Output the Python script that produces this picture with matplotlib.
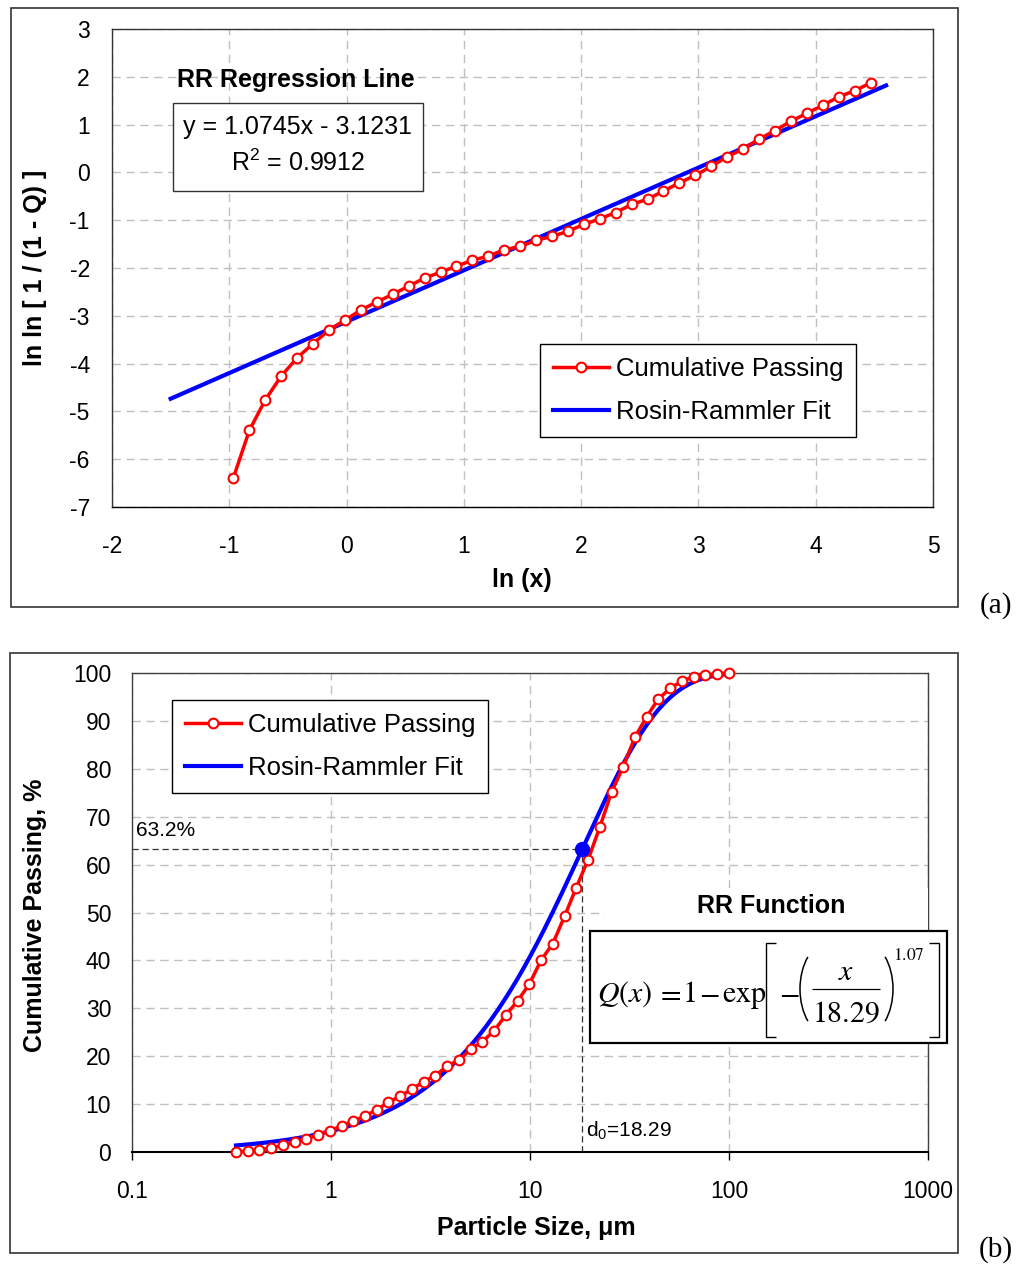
import numpy as np
import matplotlib
matplotlib.use("Agg")
import matplotlib.pyplot as plt
from matplotlib.patches import Rectangle, Arc
from matplotlib.lines import Line2D
from matplotlib.transforms import Affine2D
from matplotlib.ticker import FixedLocator, FixedFormatter

plt.rcParams['font.family'] = ['Liberation Sans', 'DejaVu Sans']
plt.rcParams['axes.unicode_minus'] = False
plt.rcParams['mathtext.fontset'] = 'custom'
plt.rcParams['mathtext.rm'] = 'Liberation Sans'
plt.rcParams['mathtext.it'] = 'Liberation Sans:italic'

# ---------------- data ----------------
particle_size_um = [0.333, 0.381, 0.437, 0.500, 0.573, 0.656, 0.752, 0.861, 0.986,
                    1.130, 1.294, 1.483, 1.699, 1.945, 2.228, 2.552, 2.924, 3.350,
                    3.835, 4.393, 5.033, 5.766, 6.606, 7.561, 8.663, 9.924, 11.37,
                    13.03, 14.91, 17.08, 19.57, 22.42, 25.69, 29.40, 33.68, 38.59,
                    44.21, 50.65, 57.97, 66.42, 76.09, 87.18, 100.0]
cumulative_passing = [0.0, 0.168, 0.455, 0.853, 1.402, 2.044, 2.750, 3.621, 4.448,
                      5.458, 6.437, 7.511, 8.840, 10.39, 11.64, 13.14, 14.69, 15.95,
                      17.96, 19.12, 21.47, 23.03, 25.34, 28.56, 31.55, 35.06, 40.05,
                      43.52, 49.19, 55.18, 61.01, 67.80, 75.12, 80.45, 86.60, 90.90,
                      94.60, 96.80, 98.30, 99.22, 99.60, 99.85, 100.0]

rr_slope = 1.0745
rr_intercept = -3.1231
rr_d0 = 18.29
rr_n = 1.07
fit_x_range_ln = [-1.5, 4.6]
fit_size_range = [0.333, 100.0]

top_xticks = [-2, -1, 0, 1, 2, 3, 4, 5]
top_yticks = [-7, -6, -5, -4, -3, -2, -1, 0, 1, 2, 3]
bot_xticks = [0.1, 1, 10, 100, 1000]
bot_xticklabels = ['0.1', '1', '10', '100', '1000']
bot_yticks = [0, 10, 20, 30, 40, 50, 60, 70, 80, 90, 100]

# transformed data for panel (a): drop Q=0 and Q=100
size_arr = np.array(particle_size_um)
q_arr = np.array(cumulative_passing)
mask = (q_arr > 0) & (q_arr < 100)
ln_x = np.log(size_arr[mask])
lnln = np.log(np.log(1.0 / (1.0 - q_arr[mask] / 100.0)))

fit_ln = np.linspace(fit_x_range_ln[0], fit_x_range_ln[1], 50)
fit_lnln = rr_slope * fit_ln + rr_intercept
fit_size = np.logspace(np.log10(fit_size_range[0]), np.log10(fit_size_range[1]), 300)
fit_q = 100 * (1 - np.exp(-(fit_size / rr_d0) ** rr_n))

# ---------------- figure ----------------
W, H = 1018, 1270
fig = plt.figure(figsize=(W / 100, H / 100), dpi=100)
# pixel transform (origin top-left, y downward)
PX = Affine2D().scale(1.0 / W, -1.0 / H).translate(0, 1) + fig.transFigure

def fx(px):
    return px / W

def fy(py):
    return 1 - py / H

RED = '#ff0000'
BLUE = '#0000ff'
GRID = '#c0c0c0'
TICK_FS = 16.5
LAB_FS = 18
LEG_FS = 18.5

# panel borders
for (x0, y0, x1, y1) in [(11, 8, 958, 607), (10, 653, 958, 1253)]:
    fig.patches.append(Rectangle((x0, y0), x1 - x0, y1 - y0, transform=PX,
                                 fill=False, edgecolor='#333333', linewidth=1.2,
                                 zorder=0))

fig.text(996, 606, '(a)', family='Liberation Serif', fontsize=21,
         ha='center', va='center', transform=PX)
fig.text(996, 1250, '(b)', family='Liberation Serif', fontsize=21,
         ha='center', va='center', transform=PX)

leg_kw = dict(fontsize=LEG_FS, frameon=True, fancybox=False, edgecolor='black',
              framealpha=1, numpoints=1, handlelength=2.2, handletextpad=0.25,
              borderpad=0.5, labelspacing=0.76, borderaxespad=0)

# ---------------- panel (a) ----------------
ax1 = fig.add_axes([fx(112), fy(507), fx(933) - fx(112), fy(29) - fy(507)])
ax1.set_xlim(-2, 5)
ax1.set_ylim(-7, 3)
ax1.set_xticks(top_xticks)
ax1.set_yticks(top_yticks)
ax1.tick_params(length=0, labelsize=TICK_FS)
ax1.tick_params(axis='x', pad=20)
ax1.tick_params(axis='y', pad=16)
ax1.grid(True, color=GRID, linestyle=(0, (6, 4)), linewidth=1)
for s in ax1.spines.values():
    s.set_color('#333333')
    s.set_linewidth(1.0)
ax1.spines['bottom'].set_color('black')

ax1.plot(ln_x, lnln, color=RED, lw=2.5, marker='o', ms=7, mfc='white', mec=RED,
         mew=1.5, label='Cumulative Passing', zorder=3)
ax1.plot(fit_ln, fit_lnln, color=BLUE, lw=3.0, label='Rosin-Rammler Fit', zorder=2.5)

leg1 = ax1.legend(loc='upper left', bbox_to_anchor=(fx(540), fy(344)),
                  bbox_transform=fig.transFigure, **leg_kw)
leg1.get_frame().set_linewidth(1.0)

fig.text(296, 80, 'RR Regression Line', fontsize=LAB_FS, fontweight='bold',
         ha='center', va='center', transform=PX)
fig.patches.append(Rectangle((173, 103), 250, 88, transform=PX, fill=True,
                             facecolor='white', edgecolor='#333333', linewidth=1.0,
                             zorder=5))
fig.text(298, 127, 'y = 1.0745x - 3.1231', fontsize=LAB_FS, ha='center',
         va='center', zorder=6, transform=PX)
fig.text(298, 163, 'R$^\\mathregular{2}$ = 0.9912', fontsize=LAB_FS, ha='center',
         va='center', zorder=6, transform=PX)

fig.text(522, 580, 'ln (x)', fontsize=LAB_FS, fontweight='bold',
         ha='center', va='center', transform=PX)
fig.text(35, 268, 'ln ln [ 1 / (1 - Q) ]', fontsize=LAB_FS, fontweight='bold',
         ha='center', va='center', rotation=90, transform=PX)

# ---------------- panel (b) ----------------
ax2 = fig.add_axes([fx(132), fy(1152), fx(928) - fx(132), fy(673) - fy(1152)])
ax2.set_xscale('log')
ax2.set_xlim(0.1, 1000)
ax2.set_ylim(0, 100)
ax2.xaxis.set_major_locator(FixedLocator(bot_xticks))
ax2.xaxis.set_major_formatter(FixedFormatter(bot_xticklabels))
ax2.xaxis.set_minor_locator(FixedLocator([]))
ax2.set_yticks(bot_yticks)
ax2.tick_params(labelsize=TICK_FS)
ax2.tick_params(axis='x', length=6, width=1, direction='out', pad=14, color='black')
ax2.tick_params(axis='y', length=0, pad=15)
ax2.grid(True, color=GRID, linestyle=(0, (6, 4)), linewidth=1)
for s in ax2.spines.values():
    s.set_color('#404040')
    s.set_linewidth(1.0)
ax2.spines['bottom'].set_color('black')
ax2.spines['bottom'].set_linewidth(1.5)

ax2.plot(size_arr, q_arr, color=RED, lw=2.5, marker='o', ms=7, mfc='white', mec=RED,
         mew=1.5, label='Cumulative Passing', zorder=3, clip_on=False)
ax2.plot(fit_size, fit_q, color=BLUE, lw=3.0, label='Rosin-Rammler Fit', zorder=2.5)

q632 = 63.2
ax2.plot([0.1, rr_d0], [q632, q632], color='#333333', lw=0.9, ls=(0, (5, 3)), zorder=2)
ax2.plot([rr_d0, rr_d0], [0, q632], color='#333333', lw=0.9, ls=(0, (5, 3)), zorder=2)
ax2.plot([rr_d0], [q632], 'o', color=BLUE, ms=10, zorder=4)
ax2.text(0.105, q632 + 2.0, '63.2%', fontsize=15, ha='left', va='bottom')
ax2.text(rr_d0 * 1.04, 4.5, 'd$_\\mathregular{0}$=18.29', fontsize=15, ha='left',
         va='center')

leg2 = ax2.legend(loc='upper left', bbox_to_anchor=(fx(172), fy(700)),
                  bbox_transform=fig.transFigure, **leg_kw)
leg2.get_frame().set_linewidth(1.0)

# RR function annotation
fig.patches.append(Rectangle((605, 888), 928 - 605, 931 - 888, transform=PX,
                             fill=True, facecolor='white', edgecolor='none', zorder=5))
fig.text(771, 906, 'RR Function', fontsize=LAB_FS, fontweight='bold',
         ha='center', va='center', zorder=6, transform=PX)
fig.patches.append(Rectangle((590, 931), 947 - 590, 1043 - 931, transform=PX,
                             fill=True, facecolor='white', edgecolor='black',
                             linewidth=1.6, zorder=5))

EQ_FS = 21.5
eq_kw = dict(transform=PX, zorder=7, math_fontfamily='stix', va='baseline')
fig.text(597, 1002, r'$Q(x)$', fontsize=EQ_FS, ha='left', **eq_kw)
fig.text(669, 1002, r'$=$', fontsize=EQ_FS, ha='center', **eq_kw)
fig.text(689, 1002, r'$1$', fontsize=EQ_FS, ha='center', **eq_kw)
fig.text(709, 1002, r'$-$', fontsize=EQ_FS, ha='center', **eq_kw)
fig.text(722, 1002, r'$\mathrm{exp}$', fontsize=EQ_FS, ha='left', **eq_kw)
fig.text(789, 1002, r'$-$', fontsize=EQ_FS, ha='center', **eq_kw)
fig.text(846, 980, r'$x$', fontsize=EQ_FS, ha='center', **eq_kw)
fig.text(846, 1022, r'$18.29$', fontsize=EQ_FS, ha='center', **eq_kw)
fig.text(909, 960, r'$1.07$', fontsize=12.5, ha='center', **eq_kw)
line_kw = dict(transform=PX, color='black', zorder=7, solid_capstyle='butt',
               solid_joinstyle='miter')
fig.lines.append(Line2D([812, 880], [988.5, 988.5], lw=0.9, **line_kw))
fig.lines.append(Line2D([776, 766, 766, 776], [943, 943, 1037, 1037], lw=1.0,
                        **line_kw))
fig.lines.append(Line2D([929, 939, 939, 929], [943, 943, 1037, 1037], lw=1.0,
                        **line_kw))
fig.patches.append(Arc((830, 989), 60, 95, theta1=124.5, theta2=235.5,
                       transform=PX, color='black', lw=1.1, zorder=7))
fig.patches.append(Arc((863, 989), 60, 95, theta1=-55.5, theta2=55.5,
                       transform=PX, color='black', lw=1.1, zorder=7))

fig.text(536, 1228, 'Particle Size, μm', fontsize=LAB_FS, fontweight='bold',
         ha='center', va='center', transform=PX)
fig.text(35, 915, 'Cumulative Passing, %', fontsize=LAB_FS, fontweight='bold',
         ha='center', va='center', rotation=90, transform=PX)

fig.savefig('out.png', dpi=100)
